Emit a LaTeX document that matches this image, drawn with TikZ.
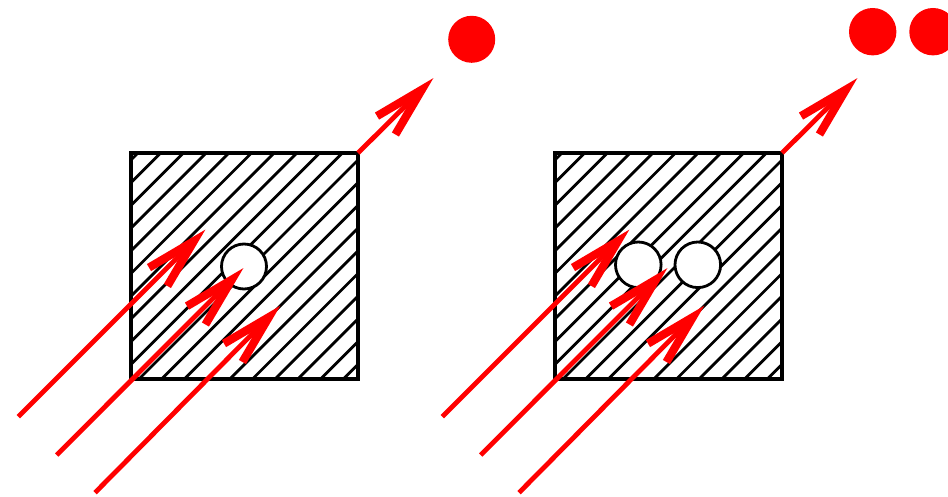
\documentclass[tikz,border=0pt]{standalone}
\usetikzlibrary{calc}
\newcommand\redarrow[2]{%
  \draw[shaft] (#1) -- ($(#2)+(135:6)$);
  \draw[barb] ($(#2)+(120.5:52)$) -- (#2) -- ($(#2)+(149.5:52)$);}
\begin{document}
\begin{tikzpicture}[x=0.5pt,y=-0.5pt,
  hatch/.style={line width=1.4pt},
  box/.style={draw,line width=1.7pt},
  hole/.style={draw,fill=white,line width=1.4pt},
  dot/.style={fill=red},
  shaft/.style={draw=red,line width=2.4pt,line cap=butt},
  barb/.style={draw=red,line width=4.1pt,line join=miter,line cap=butt}]
\useasboundingbox (0,0) rectangle (948,497);
% two hatched blocks
\foreach \dx in {0,424}{
  \begin{scope}[shift={(\dx,0)}]
    \begin{scope}
      \clip (131,153) rectangle (358,379);
      \foreach \k in {0,...,19}{
        \pgfmathsetmacro\s{291+22.7*\k}
        \draw[hatch] (\s-400,400) -- (\s-130,130);
      }
    \end{scope}
    \draw[box] (131,153) rectangle (358,379);
  \end{scope}
}
% holes
\draw[hole] (244,266.5) circle (22.5);
\draw[hole] (638.3,264.8) circle (22.8);
\draw[hole] (697.8,264.8) circle (22.8);
% incoming arrows, left block
\coordinate (a1s) at (18.3,416.7);  \coordinate (a1t) at (193.8,241.2);
\coordinate (b1s) at (56.7,455);    \coordinate (b1t) at (231.8,279.7);
\coordinate (c1s) at (95,492.7);    \coordinate (c1t) at (268.8,317.2);
\coordinate (o1s) at (358,153);     \coordinate (o1t) at (421.8,89.7);
% incoming arrows, right block
\coordinate (a2s) at (442.3,416.7); \coordinate (a2t) at (617.8,241.2);
\coordinate (b2s) at (480.7,455);   \coordinate (b2t) at (655.8,279.7);
\coordinate (c2s) at (519,492.7);   \coordinate (c2t) at (692.8,317.2);
\coordinate (o2s) at (782,153);     \coordinate (o2t) at (845.8,89.7);
\redarrow{a1s}{a1t}
\redarrow{b1s}{b1t}
\redarrow{c1s}{c1t}
\redarrow{o1s}{o1t}
\redarrow{a2s}{a2t}
\redarrow{b2s}{b2t}
\redarrow{c2s}{c2t}
\redarrow{o2s}{o2t}
% emitted particles
\fill[dot] (471.7,39.3) circle (23.5);
\fill[dot] (872.7,31.7) circle (23.7);
\fill[dot] (933,31.7) circle (23.7);
\end{tikzpicture}
\end{document}
